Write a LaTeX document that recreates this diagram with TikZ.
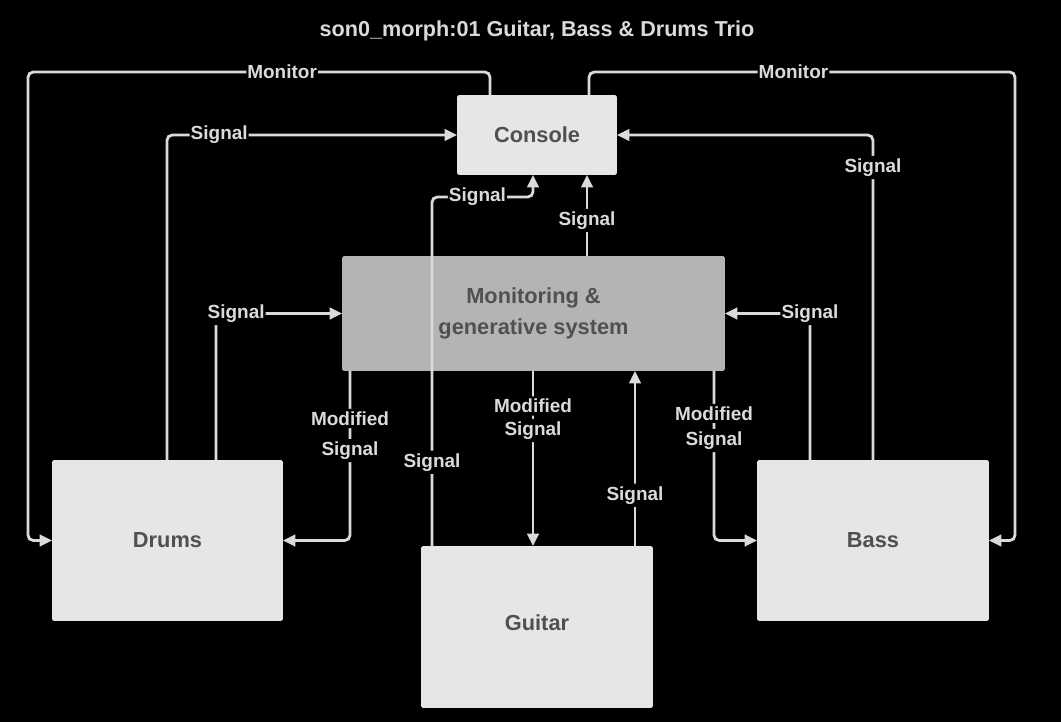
\documentclass[tikz,border=0pt]{standalone}
\usepackage{fontspec}
\setmainfont{Liberation Sans}
\usetikzlibrary{arrows.meta}
\definecolor{boxlight}{RGB}{230,230,230}
\definecolor{boxmid}{RGB}{180,180,180}
\definecolor{boxtext}{RGB}{80,80,80}
\definecolor{wirecol}{RGB}{218,218,218}

\begin{document}
\begin{tikzpicture}[x=0.02cm,y=-0.02cm,
	box/.style={fill=boxlight,rounded corners=1pt,inner sep=0,outer sep=0,text=boxtext,align=center,font=\bfseries\fontsize{12.4}{15}\selectfont},
	wire/.style={draw=wirecol,line width=1.6pt,rounded corners=3pt,-{Triangle[length=7pt,width=6.5pt]}},
	lbl/.style={fill=black,text=wirecol,inner xsep=0.6pt,inner ysep=1.5pt,font=\bfseries\fontsize{10.8}{13}\selectfont}]
	\fill[black] (0,0) rectangle (1061,722);
	\node[text=wirecol,font=\bfseries\fontsize{12.3}{15}\selectfont] (0) at (537,31) {son0\_morph:01 Guitar, Bass \& Drums Trio};
	\node[box,minimum width=3.2cm,minimum height=1.6cm] (1) at (537,135) {Console};
	\node[box,fill=boxmid,minimum width=7.66cm,minimum height=2.3cm] (2) at (533.5,313.5) {Monitoring \&\\[3pt] generative system};
	\node[box,minimum width=4.62cm,minimum height=3.22cm] (3) at (167.5,540.5) {Drums};
	\node[box,minimum width=4.64cm,minimum height=3.24cm] (4) at (537,627) {\raisebox{5pt}{Guitar}};
	\node[box,minimum width=4.64cm,minimum height=3.22cm] (5) at (873,540.5) {Bass};
	\draw[wire] (490,0 |- 1.north) -- (490,72) -- node[lbl,pos=0.45]{Monitor} (28,72) -- (28,0 |- 3.west) -- (3.west);
	\draw[wire] (589,0 |- 1.north) -- (589,72) -- node[lbl,pos=0.48]{Monitor} (1015,72) -- (1015,0 |- 5.east) -- (5.east);
	\draw[wire] (167,0 |- 3.north) -- (167,0 |- 1.west) -- node[lbl,pos=0.18]{Signal} (1.west);
	\draw[wire] (216,0 |- 3.north) -- (216,0 |- 2.west) -- node[lbl,pos=0.16]{Signal} (2.west);
	\draw[wire] (873,0 |- 5.north) -- node[lbl,pos=0.9]{Signal} (873,0 |- 1.east) -- (1.east);
	\draw[wire] (810,0 |- 5.north) -- (810,0 |- 2.east) node[lbl]{Signal} -- (2.east);
	\draw[wire] (432,0 |- 4.north) -- node[lbl,pos=0.24]{Signal} (432,197) -- node[lbl,pos=0.45]{Signal} (533,197) -- (533,0 |- 1.south);
	\draw[wire] (587,0 |- 2.north) -- node[lbl,pos=0.44]{Signal} (587,0 |- 1.south);
	\draw[wire] (350,0 |- 2.south) -- node[lbl,pos=0.28]{Modified} node[lbl,pos=0.47]{Signal} (350,0 |- 3.east) -- (3.east);
	\draw[wire] (533,0 |- 2.south) -- node[lbl,pos=0.2]{Modified} node[lbl,pos=0.34]{Signal} (533,0 |- 4.north);
	\draw[wire] (635,0 |- 4.north) -- node[lbl,pos=0.29]{Signal} (635,0 |- 2.south);
	\draw[wire] (714,0 |- 2.south) -- node[lbl,pos=0.25]{Modified} node[lbl,pos=0.41]{Signal} (714,0 |- 5.west) -- (5.west);
\end{tikzpicture}
\end{document}
